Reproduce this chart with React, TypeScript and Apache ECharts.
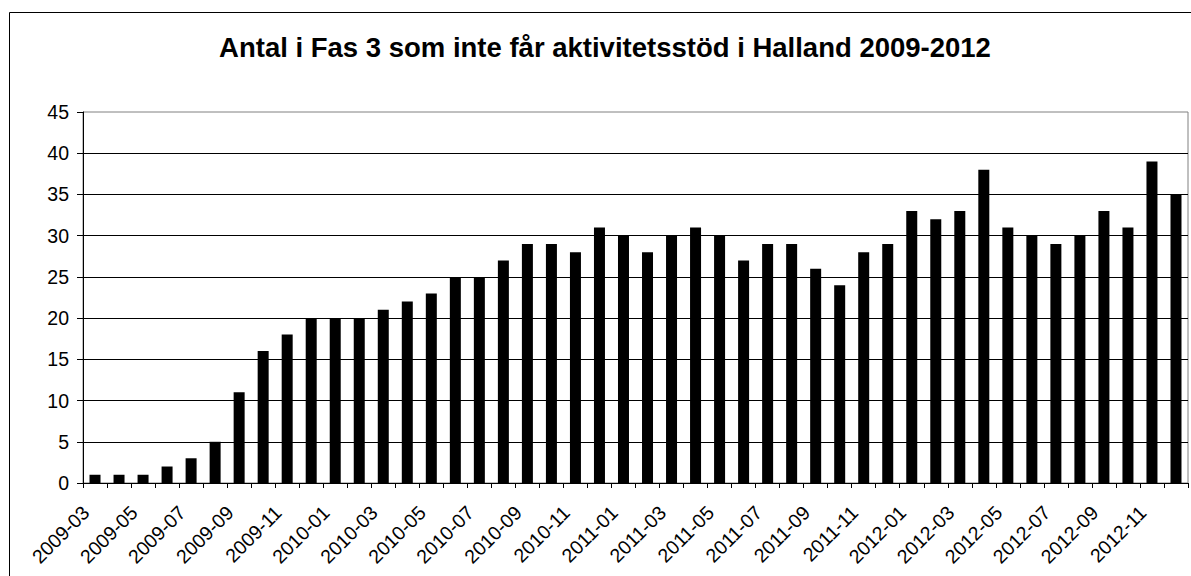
import React, { useEffect, useRef } from "react";
import * as echarts from "echarts";

const TITLE = "Antal i Fas 3 som inte får aktivitetsstöd i Halland 2009-2012";

const months = [
  "2009-03", "2009-04", "2009-05", "2009-06", "2009-07", "2009-08", "2009-09", "2009-10", "2009-11", "2009-12",
  "2010-01", "2010-02", "2010-03", "2010-04", "2010-05", "2010-06", "2010-07", "2010-08", "2010-09", "2010-10", "2010-11", "2010-12",
  "2011-01", "2011-02", "2011-03", "2011-04", "2011-05", "2011-06", "2011-07", "2011-08", "2011-09", "2011-10", "2011-11", "2011-12",
  "2012-01", "2012-02", "2012-03", "2012-04", "2012-05", "2012-06", "2012-07", "2012-08", "2012-09", "2012-10", "2012-11", "2012-12",
];

const counts = [
  1, 1, 1, 2, 3, 5, 11, 16, 18, 20,
  20, 20, 21, 22, 23, 25, 25, 27, 29, 29, 28, 31,
  30, 28, 30, 31, 30, 27, 29, 29, 26, 24, 28, 29,
  33, 32, 33, 38, 31, 30, 29, 30, 33, 31, 39, 35,
];

const FONT = "'Liberation Sans', Arial, sans-serif";

export default function App() {
  const ref = useRef<HTMLDivElement>(null);
  useEffect(() => {
    if (!ref.current) return;
    const chart = echarts.init(ref.current, undefined, { renderer: "svg" });
    chart.setOption({
      animation: false,
      backgroundColor: "#ffffff",
      graphic: [
        {
          type: "rect",
          shape: { x: 9.5, y: 12.5, width: 1200, height: 600 },
          style: { fill: "none", stroke: "#000000", lineWidth: 1 },
          silent: true,
        },
        {
          type: "text",
          x: 605,
          y: 47,
          style: {
            text: TITLE,
            fontFamily: FONT,
            fontSize: 27.5,
            fontWeight: "bold",
            fill: "#000000",
            textAlign: "center",
            textVerticalAlign: "middle",
          },
        },
      ],
      grid: {
        left: 83,
        right: 3,
        top: 112,
        bottom: 93,
        show: true,
        borderColor: "#808080",
        borderWidth: 1,
        backgroundColor: "transparent",
      },
      xAxis: {
        type: "category",
        data: months,
        boundaryGap: true,
        axisLine: { show: true, lineStyle: { color: "#000000", width: 1 } },
        axisTick: { show: true, interval: 0, length: 5, alignWithLabel: false, lineStyle: { color: "#000000" } },
        axisLabel: {
          interval: 1,
          rotate: 45,
          fontSize: 19.5,
          fontFamily: FONT,
          color: "#000000",
          margin: 17,
          padding: [0, 13, 0, 0],
        },
        splitLine: { show: false },
      },
      yAxis: {
        type: "value",
        min: 0,
        max: 45,
        interval: 5,
        axisLine: { show: true, lineStyle: { color: "#000000", width: 1 } },
        axisTick: { show: true, length: 6, lineStyle: { color: "#000000" } },
        axisLabel: { fontSize: 19.5, fontFamily: FONT, color: "#000000", margin: 14 },
        splitLine: { show: true, showMaxLine: false, lineStyle: { color: "#000000", width: 1 } },
      },
      series: [
        {
          type: "bar",
          data: counts,
          barWidth: 11,
          itemStyle: { color: "#000000" },
        },
      ],
    });
    return () => chart.dispose();
  }, []);
  return (
    <div
      ref={ref}
      style={{ position: "fixed", left: 0, top: 0, width: 1191, height: 576, background: "#fff" }}
    />
  );
}
